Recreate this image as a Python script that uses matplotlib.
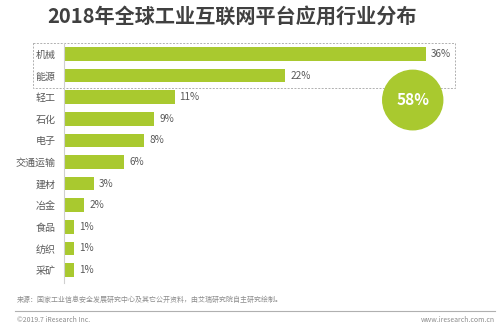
import matplotlib
matplotlib.use('Agg')
import matplotlib.pyplot as plt
from matplotlib.patches import Rectangle, Ellipse
from matplotlib.lines import Line2D

plt.rcParams['font.family'] = ['Noto Sans CJK SC', 'DejaVu Sans']

# data
industries = ['机械', '能源', '轻工', '石化', '电子', '交通运输', '建材', '冶金', '食品', '纺织', '采矿']
shares = [36, 22, 11, 9, 8, 6, 3, 2, 1, 1, 1]
title = '2018年全球工业互联网平台应用行业分布'
source = '来源：国家工业信息安全发展研究中心及其它公开资料，由艾瑞研究院自主研究绘制。'

bar_color = '#a9c92f'
text_gray = '#595959'

fig = plt.figure(figsize=(5, 3.27), dpi=100)
W, H = 500, 327

# axes placed to match the reference layout (pixels -> figure fractions)
ax = fig.add_axes([64 / W, (H - 283) / H, 402 / W, 240 / H])
ypos = list(range(len(industries)))
ax.barh(ypos, shares, height=0.63, color=bar_color)
ax.set_xlim(0, 40)
ax.set_ylim(10.6, -0.51)

for s in ['top', 'right', 'bottom']:
    ax.spines[s].set_visible(False)
ax.spines['left'].set_color('#d0d0d0')
ax.spines['left'].set_linewidth(0.8)
ax.set_xticks([])
ax.set_yticks(ypos)
ax.set_yticklabels(industries, fontsize=7.2, color=text_gray)
ax.tick_params(axis='y', length=0, pad=6)

for y, v in zip(ypos, shares):
    ax.text(v + 0.5, y, f'{v}%', va='center', ha='left', fontsize=7.2, color=text_gray)

# dashed box around the top two industries
box = Rectangle((-3.1, -0.5), 42.0, 2.07, fill=False, linestyle=(0, (2, 1.5)),
                edgecolor='#b0b0b0', linewidth=0.7, clip_on=False)
ax.add_patch(box)

# highlight circle with the combined share of the top two
top2 = shares[0] + shares[1]
circ = Ellipse((34.7, 2.13), 60 / 10.05, 60 / 21.8, color=bar_color, clip_on=False, zorder=3)
ax.add_patch(circ)
ax.text(34.7, 2.13, f'{top2}%', ha='center', va='center', fontsize=11,
        fontweight='bold', color='white', zorder=4)

# title
fig.text(47 / W, 1 - 16 / H, title, fontsize=14.5, fontweight='bold', color='#404040',
         ha='left', va='center')

# footer
fig.text(17 / W, 1 - 300 / H, source, fontsize=5, color='#8c8c8c', ha='left', va='center')
fig.add_artist(Line2D([15 / W, 495 / W], [1 - 311 / H, 1 - 311 / H], color='#b0b0b0',
                      linewidth=0.8, transform=fig.transFigure))
fig.text(17 / W, 1 - 320 / H, '©2019.7 iResearch Inc.', fontsize=5, color='#8c8c8c',
         ha='left', va='center')
fig.text(495 / W, 1 - 320 / H, 'www.iresearch.com.cn', fontsize=5, color='#8c8c8c',
         ha='right', va='center')

fig.savefig('out.png', dpi=100)
